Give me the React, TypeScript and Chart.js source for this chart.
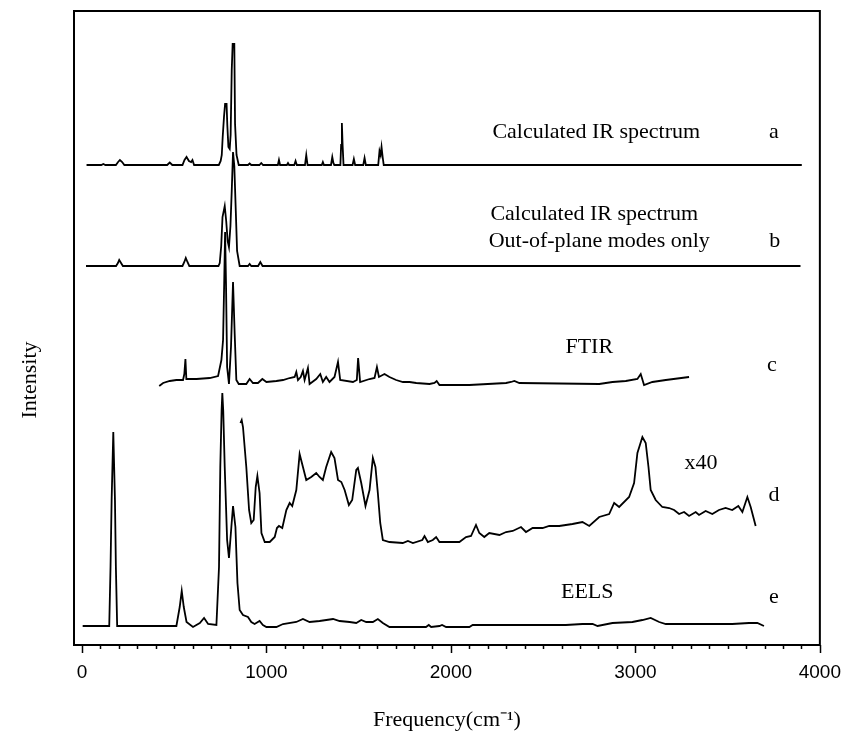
import { useEffect, useRef } from "react";
import { Chart, registerables } from "chart.js";

Chart.register(...registerables);

// Each trace: [wavenumber cm-1, height above its own baseline]
const calcAll: [number, number][] = [
  [25, 0], [105, 0], [116, 1], [127, 0], [184, 0], [196, 3], [206, 5], [218, 3], [230, 0],
  [462, 0], [476, 2.5], [490, 0],
  [545, 0], [556, 5], [567, 8], [580, 4], [592, 3], [599, 5], [608, 0],
  [742, 0], [752, 4], [758, 10], [763, 28], [770, 48], [776, 61], [784, 61], [788, 40], [794, 18],
  [801, 16], [806, 30], [812, 95], [817, 121], [826, 121], [830, 41], [838, 10], [850, 0],
  [900, 0], [909, 1.5], [918, 0], [962, 0], [972, 2], [982, 0],
  [1062, 0], [1068, 5], [1074, 0], [1111, 0], [1117, 2], [1123, 0], [1151, 0], [1158, 4], [1165, 0],
  [1209, 0], [1216, 10], [1223, 0], [1300, 0], [1306, 3], [1312, 0], [1350, 0], [1357, 8], [1363, 2], [1368, 0],
  [1401, 0], [1405, 20], [1409, 42], [1413, 20], [1418, 0], [1467, 0], [1474, 6], [1481, 0],
  [1525, 0], [1532, 7], [1539, 0],
  [1606, 0], [1613, 14], [1619, 10], [1624, 18], [1630, 8], [1636, 0], [3902, 0],
];

const calcOutOfPlane: [number, number][] = [
  [22, 0], [185, 0], [195, 3], [202, 6], [212, 3], [222, 0], [545, 0], [555, 4], [563, 8], [572, 4], [582, 0],
  [740, 0], [747, 3], [755, 20], [762, 49], [774, 60], [782, 45], [790, 25], [797, 19], [805, 40], [812, 75],
  [819, 114], [826, 100], [834, 55], [841, 15], [855, 0], [900, 0], [909, 2], [918, 0], [955, 0], [967, 4],
  [979, 0], [3895, 0],
];

const ftir: [number, number][] = [
  [419, -2], [440, 1], [476, 3], [512, 4], [548, 4], [555, 10], [561, 25], [566, 5], [621, 5], [693, 6],
  [738, 8], [756, 24], [765, 44], [771, 100], [776, 152], [781, 100], [787, 17], [797, 0], [808, 37],
  [819, 102], [828, 50], [837, 4], [850, 0], [891, 0], [909, 5], [927, 1], [954, 1], [978, 5], [1000, 2],
  [1054, 3], [1090, 4], [1126, 6], [1153, 7], [1162, 12], [1171, 4], [1186, 7], [1198, 13], [1207, 4],
  [1225, 16], [1234, 0], [1270, 5], [1292, 10], [1306, 2], [1324, 7], [1342, 2], [1369, 7], [1388, 22],
  [1400, 4], [1469, 2], [1490, 4], [1497, 26], [1508, 2], [1559, 5], [1586, 6], [1599, 17], [1610, 7],
  [1640, 10], [1667, 7], [1703, 4], [1740, 2], [1776, 2], [1812, 1], [1884, 0], [1911, 1], [1923, 3],
  [1938, -1], [2100, -1], [2299, 1], [2326, 2], [2344, 3], [2371, 1], [2804, 0], [2876, 2], [2948, 3],
  [3011, 5], [3029, 10], [3047, -1], [3092, 2], [3165, 4], [3291, 7],
];

const eelsX40: [number, number][] = [
  [859, 118], [866, 121], [873, 114], [891, 74], [906, 31], [918, 18], [931, 21], [942, 54], [951, 65],
  [963, 48], [973, 8], [991, -1], [1018, -1], [1045, 4], [1057, 13], [1068, 15], [1086, 13], [1108, 31],
  [1126, 38], [1140, 35], [1162, 51], [1180, 87], [1198, 74], [1216, 61], [1243, 64], [1270, 68],
  [1288, 64], [1306, 61], [1324, 74], [1351, 89], [1369, 83], [1388, 61], [1406, 59], [1424, 51],
  [1447, 36], [1465, 41], [1487, 71], [1496, 73], [1514, 58], [1537, 35], [1559, 51], [1577, 83],
  [1591, 74], [1604, 48], [1617, 18], [1631, 1], [1667, -1], [1739, -2], [1767, 0], [1794, -2],
  [1845, 1], [1857, 5], [1875, -1], [1902, 1], [1920, 4], [1938, -1], [2046, -1], [2082, 4], [2109, 5],
  [2136, 16], [2154, 8], [2181, 4], [2208, 8], [2263, 6], [2299, 9], [2335, 10], [2380, 14], [2407, 9],
  [2443, 13], [2497, 13], [2533, 15], [2587, 15], [2659, 17], [2713, 19], [2750, 15], [2804, 24],
  [2858, 27], [2885, 38], [2912, 34], [2966, 44], [2993, 58], [3011, 88], [3038, 104], [3056, 98],
  [3071, 74], [3083, 51], [3110, 41], [3146, 34], [3183, 33], [3210, 31], [3237, 27], [3264, 29],
  [3291, 25], [3327, 29], [3345, 26], [3381, 30], [3417, 27], [3453, 31], [3489, 33], [3525, 31],
  [3558, 35], [3580, 29], [3607, 44], [3625, 34], [3652, 15],
];

const eels: [number, number][] = [
  [4, 0], [148, 0], [155, 59], [161, 126], [170, 194], [179, 126], [184, 59], [191, 0], [512, 0],
  [530, 19], [541, 35], [552, 19], [567, 4], [602, -1], [639, 3], [662, 8], [684, 2], [729, 1],
  [743, 59], [750, 159], [757, 215], [761, 233], [766, 215], [774, 159], [787, 86], [797, 68],
  [810, 99], [819, 120], [832, 99], [843, 43], [855, 16], [873, 11], [900, 9], [918, 4], [936, 2],
  [963, 5], [981, 1], [1000, -1], [1054, -1], [1090, 2], [1162, 4], [1198, 7], [1234, 4], [1288, 5],
  [1361, 7], [1397, 5], [1451, 4], [1487, 3], [1514, 6], [1541, 4], [1577, 4], [1604, 7], [1631, 3],
  [1667, -1], [1865, -1], [1880, 1], [1893, -1], [1938, 0], [1952, 1], [1974, -1], [2100, -1],
  [2118, 1], [2623, 1], [2713, 2], [2768, 2], [2795, 0], [2876, 3], [2984, 4], [3038, 6], [3083, 8],
  [3129, 4], [3165, 2], [3525, 2], [3616, 3], [3661, 3], [3697, 0],
];

// Vertical offset of each trace (a..e) in intensity units
const traces = [calcAll, calcOutOfPlane, ftir, eelsX40, eels];
const baselines = [480, 379, 261, 104, 19];

// Text placed on the plot, in data coordinates
const notes: { text: string; x: number; y: number }[] = [
  { text: "Calculated IR spectrum", x: 2788, y: 513 },
  { text: "a", x: 3751, y: 513 },
  { text: "Calculated IR spectrum", x: 2777, y: 431 },
  { text: "Out-of-plane modes only", x: 2804, y: 404 },
  { text: "b", x: 3756, y: 404 },
  { text: "FTIR", x: 2750, y: 298 },
  { text: "c", x: 3740, y: 280 },
  { text: "x40", x: 3356, y: 182 },
  { text: "d", x: 3751, y: 150 },
  { text: "EELS", x: 2739, y: 53 },
  { text: "e", x: 3751, y: 48 },
];

const SERIF = '"Liberation Serif", "Times New Roman", serif';

const framePlugin = {
  id: "frameAndNotes",
  afterDraw(chart: any) {
    const { ctx, chartArea, scales } = chart;
    const { left, top, right, bottom } = chartArea;
    const x = scales.x;
    const y = scales.y;
    ctx.save();
    ctx.strokeStyle = "#000";
    ctx.lineWidth = 2;
    ctx.strokeRect(left, top, right - left, bottom - top);

    // tick marks: long every 1000, short every 100
    ctx.lineWidth = 1.5;
    for (const t of x.ticks) {
      const px = Math.round(x.getPixelForValue(t.value)) + 0.5;
      const len = t.value % 1000 === 0 ? 8 : 4;
      ctx.beginPath();
      ctx.moveTo(px, bottom);
      ctx.lineTo(px, bottom + len);
      ctx.stroke();
    }

    ctx.fillStyle = "#000";
    ctx.font = `22px ${SERIF}`;
    ctx.textAlign = "center";
    ctx.textBaseline = "middle";
    for (const n of notes) {
      ctx.fillText(n.text, x.getPixelForValue(n.x), y.getPixelForValue(n.y));
    }

    ctx.translate(30, 380);
    ctx.rotate(-Math.PI / 2);
    ctx.fillText("Intensity", 0, 0);
    ctx.restore();
  },
};

export default function App() {
  const canvasRef = useRef<HTMLCanvasElement | null>(null);

  useEffect(() => {
    const canvas = canvasRef.current;
    if (!canvas) return;
    const datasets = traces.map((tr, i) => ({
      data: tr.map(([f, h]) => ({ x: f, y: baselines[i] + h })),
      showLine: true,
      borderColor: "#000",
      backgroundColor: "#000",
      borderWidth: 1.8,
      pointRadius: 0,
      fill: false,
      tension: 0,
    }));
    const chart = new Chart(canvas, {
      type: "scatter",
      data: { datasets },
      options: {
        animation: false,
        responsive: false,
        devicePixelRatio: 1,
        layout: { padding: { left: 74, right: 36, top: 11, bottom: 0 } },
        plugins: { legend: { display: false }, tooltip: { enabled: false } },
        scales: {
          x: {
            type: "linear",
            min: -43,
            max: 4000,
            afterFit: (s: any) => {
              s.height = 89;
            },
            grid: { display: false, drawTicks: false },
            border: { display: false },
            ticks: {
              stepSize: 100,
              maxTicksLimit: 100,
              autoSkip: false,
              includeBounds: false,
              maxRotation: 0,
              padding: 16,
              color: "#000",
              font: { family: '"Liberation Sans", Arial, sans-serif', size: 19 },
              callback: (v: any) => (Number(v) % 1000 === 0 ? String(v) : ""),
            },
            title: {
              display: true,
              text: "Frequency(cm\u207B\u00B9)",
              color: "#000",
              font: { family: SERIF, size: 22 },
              padding: { top: 0, bottom: 1 },
            },
          },
          y: {
            type: "linear",
            display: false,
            min: 0,
            max: 634,
          },
        },
      },
      plugins: [framePlugin],
    });
    return () => chart.destroy();
  }, []);

  return (
    <div style={{ position: "absolute", left: 0, top: 0, width: 857, height: 734, background: "#fff" }}>
      <canvas ref={canvasRef} width={857} height={734} />
    </div>
  );
}
